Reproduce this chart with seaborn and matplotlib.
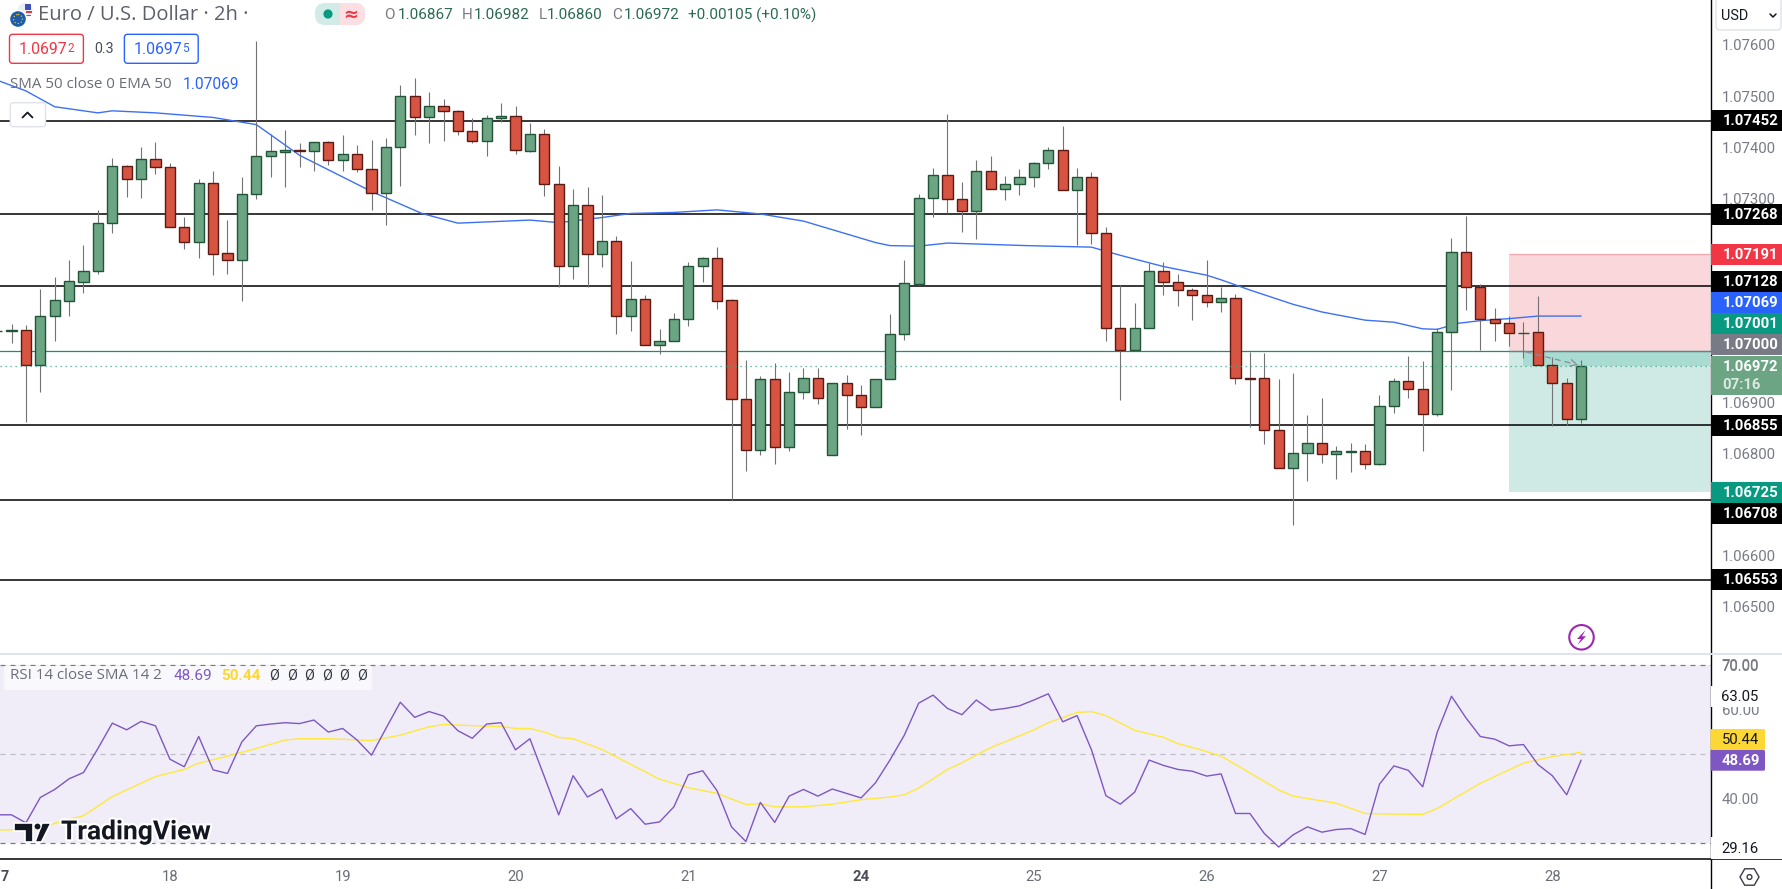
import numpy as np
import pandas as pd
import matplotlib
matplotlib.use("Agg")
import matplotlib.pyplot as plt
import matplotlib.patheffects as pe
from matplotlib.patches import Rectangle, FancyBboxPatch, Circle, Polygon, Ellipse
import seaborn as sns

# ---- data (prices in 1e-5 USD points) ----
opens = [107039,107040,107041,106974,107070,107099,107136,107158,107251,107362,107338,107376,107360,107243,107215,107329,107192,107178,107309,107382,107391,107395,107393,107409,107374,107386,107358,107311,107401,107501,107458,107480,107470,107431,107411,107456,107460,107393,107425,107327,107168,107286,107190,107217,107070,107102,107013,107021,107064,107168,107182,107100,106907,106807,106945,106813,106920,106947,106797,106937,106915,106891,106945,107033,107132,107300,107345,107298,107275,107354,107318,107327,107341,107368,107394,107316,107341,107232,107046,107003,107045,107158,107136,107121,107111,107097,107104,106947,106947,106846,106771,106800,106820,106798,106803,106804,106780,106892,106941,106927,106878,107037,107194,107125,107064,107055,107035,107037,106974,106938,106867]
highs = [107060,107053,107051,107122,107145,107179,107208,107277,107378,107365,107400,107410,107368,107263,107337,107353,107257,107341,107608,107425,107433,107408,107409,107412,107424,107404,107414,107418,107521,107535,107508,107494,107472,107457,107463,107486,107480,107447,107435,107363,107318,107322,107306,107226,107177,107110,107044,107075,107175,107185,107204,107102,106983,106951,106977,106959,106967,106967,106937,106953,106934,106945,107073,107179,107308,107359,107465,107331,107375,107382,107343,107357,107370,107400,107441,107359,107351,107243,107130,107095,107172,107174,107151,107124,107179,107126,107112,106999,106996,106945,106957,106875,106908,106814,106820,106818,106914,106947,106991,106981,107045,107222,107265,107131,107084,107070,107057,107108,106989,106947,106982]
lows = [107020,107017,106861,106920,107020,107070,107115,107151,107232,107303,107301,107348,107243,107201,107183,107150,107152,107099,107298,107342,107322,107361,107353,107365,107353,107351,107277,107247,107324,107424,107408,107412,107424,107407,107382,107449,107387,107391,107305,107126,107142,107126,107166,107034,107040,107013,106995,107021,107049,107136,107083,106709,106766,106797,106780,106805,106907,106897,106797,106848,106837,106891,106945,107023,107130,107264,107271,107234,107220,107318,107297,107307,107322,107358,107315,107209,107210,107021,106905,107003,107045,107111,107089,107062,107087,107076,106936,106852,106819,106771,106660,106745,106782,106750,106764,106770,106778,106880,106909,106805,106874,106924,107080,107003,107021,107010,106987,106974,106854,106855,106860]
closes = [107040,107041,106974,107070,107100,107137,107158,107251,107362,107338,107376,107360,107243,107215,107329,107191,107178,107309,107382,107392,107395,107393,107409,107374,107386,107358,107311,107401,107501,107458,107480,107470,107431,107411,107456,107460,107394,107425,107327,107168,107286,107190,107217,107070,107102,107013,107021,107064,107168,107182,107099,106907,106807,106945,106813,106920,106947,106909,106937,106915,106891,106945,107033,107133,107300,107345,107298,107275,107354,107318,107327,107341,107368,107394,107316,107341,107232,107046,107003,107045,107158,107136,107121,107111,107097,107104,106947,106946,106846,106771,106800,106820,106798,106804,106804,106780,106892,106941,106927,106878,107037,107194,107125,107064,107055,107035,107036,106974,106938,106867,106972]

ema_bar = [0,2,4,7,8,11,15,18,21,26,29.5,32,37,39,42,44,47,50,53,56,61,62,64,66,71.5,76,78,81,84,85,87,90,92,95,97,99,100,101.5,103,105,107,110]
ema_val = [107531,107510,107479,107467,107471,107467,107458,107444,107384,107313,107270,107251,107257,107252,107262,107270,107272,107277,107269,107255,107213,107207,107206,107212,107207,107204,107188,107166,107149,107140,107120,107092,107077,107061,107057,107044,107043,107055,107060,107064,107069,107069]

rsi = [36.4,36.4,34.6,40.3,42.1,44.5,45.9,51.3,57.0,55.5,57.4,56.4,48.9,47.2,54.0,46.5,45.7,52.8,56.4,56.8,57.1,56.9,57.7,55.0,55.8,53.2,49.8,55.8,61.7,58.3,59.6,58.6,55.3,53.6,56.8,57.1,51.0,53.5,45.0,36.4,45.2,40.4,42.2,35.5,37.8,34.3,34.8,38.2,45.4,46.3,41.8,33.7,30.4,39.2,34.7,40.6,42.1,40.6,42.2,41.2,40.2,43.6,48.7,54.3,61.5,63.3,60.3,58.9,62.2,59.9,60.3,60.9,62.2,63.6,57.3,58.7,51.0,40.7,38.8,41.5,48.7,47.5,46.6,46.2,45.1,45.6,36.7,36.7,32.2,29.16,31.9,33.7,32.5,33.1,33.3,32.0,43.3,47.4,46.4,42.7,54.9,63.05,58.2,54.0,53.4,51.9,52.2,47.7,45.2,40.9,48.69]

sma_bar = [0,3,4,6,8,11,13,14,16,18,20,21,23,26,28,30,31,34,35,36,37,38,39,40,41,42,46,48,50,52,53,54,56,58,60,62,63,64,66,67,69,70,72,73,75,76,77,79,81,82,83.5,85,89,90,93,95,96,99,100,103,106,108,110]
sma_val = [33.0,33.1,34.5,36.2,40.5,45.0,46.6,48.0,49.6,51.3,53.2,53.5,53.5,53.1,54.3,56.2,56.7,56.3,56.3,55.8,55.8,55.0,53.8,53.5,52.3,51.1,44.4,42.5,41.2,38.7,38.9,38.2,38.2,38.8,39.8,40.4,40.9,42.4,46.6,48.1,51.5,52.8,55.5,57.1,59.4,59.6,58.7,55.4,53.8,52.4,51.1,49.6,42.0,40.6,39.0,36.7,36.6,36.5,37.8,43.5,48.0,49.5,50.44]

levels = [1.07452, 1.07268, 1.07128, 1.06855, 1.06708, 1.06553]
price_ticks = [1.076, 1.075, 1.074, 1.073, 1.069, 1.068, 1.066, 1.065]
rsi_ticks = [70, 60, 40]
day_ticks = [12, 24, 36, 48, 60, 72, 84, 96, 108]
day_labels = ["18", "19", "20", "21", "24", "25", "26", "27", "28"]

entry, stop, target, last_close = 1.07000, 1.07191, 1.06725, 1.06972
rsi_last, sma_last = 48.69, 50.44

# ---- theme ----
sns.set_theme(style="white")
plt.rcParams["font.family"] = ["Roboto", "DejaVu Sans"]
WORDS = ["Open Sans", "DejaVu Sans"]

W, H = 1782, 889
AX_R = 1710.5
SEP = 654.3
BOT = 859.3
fig = plt.figure(figsize=(W / 100, H / 100), dpi=100, facecolor="white")

UP, UP_E = "#6ba583", "#225437"
DN, DN_E = "#d75442", "#5b1a13"
WICK = "#737375"
GRAY = "#787b86"
BLUE = "#2962ff"
TEAL = "#089981"
PURPLE = "#7e57c2"
YELLOW = "#fdd835"
RED = "#f23645"
INK = "#131722"

ax = fig.add_axes([0, 1 - SEP / H, AX_R / W, SEP / H])
rx = fig.add_axes([0, 1 - BOT / H, AX_R / W, (BOT - SEP) / H])
xlim = (2.9 / 14.4, (AX_R + 2.9) / 14.4)


def price_at(y):
    return 1.07 + (351.3 - y) / 51057


ax.set_xlim(*xlim)
ax.set_ylim(price_at(SEP), price_at(0))
rx.set_xlim(*xlim)
rx.set_ylim(70 - (BOT - 665.3) / 4.45, 70 - (SEP - 665.3) / 4.45)

# ---- candles ----
df = pd.DataFrame({"o": opens, "h": highs, "l": lows, "c": closes}) / 1e5
df["bar"] = np.arange(len(df))
df["up"] = df["c"] >= df["o"]

# position tool
x1 = xlim[1]
ax.add_patch(Rectangle((105, entry), x1 - 105, stop - entry, fc="#fad7da", ec="none", zorder=1))
ax.add_patch(Rectangle((105, target), x1 - 105, entry - target, fc="#cfeae4", ec="none", zorder=1))
ax.add_patch(Rectangle((106, last_close), x1 - 106, entry - last_close, fc="#a8dbd2", ec="none", zorder=1.1))
ax.hlines(stop, 105, x1, color="#f7a9b0", lw=1, zorder=1.2)
ax.hlines(entry, 105, x1, color=GRAY, lw=0.9, zorder=2.6)

for lv in levels:
    ax.axhline(lv, color="black", lw=1.1, zorder=2)
ax.axhline(1.07001, color="#1f8a7c", lw=0.9, zorder=2.5)
ax.axhline(last_close, color="#3fa88a", lw=0.9, ls=(0, (1, 3)), zorder=5)

ema = pd.DataFrame({"bar": ema_bar, "v": np.array(ema_val) / 1e5})
sns.lineplot(data=ema, x="bar", y="v", ax=ax, color="#3d70f5", lw=1.0, zorder=3, legend=False, errorbar=None)

ax.vlines(df["bar"], df["l"], df["h"], color=WICK, lw=0.8, zorder=3.5)
for up, fc, ec in [(True, UP, UP_E), (False, DN, DN_E)]:
    s = df[df["up"] == up]
    ax.bar(s["bar"], (s["c"] - s["o"]).abs(), bottom=s[["o", "c"]].min(axis=1), width=0.70,
           color=fc, edgecolor=ec, linewidth=1.0, zorder=4)

ax.annotate("", xy=(110, last_close), xytext=(106, entry),
            arrowprops=dict(arrowstyle="->", color="#8a8d97", lw=0.9, ls=(0, (4, 4))), zorder=6)

ax.set_xlabel(""); ax.set_ylabel("")
ax.set_xticks([])
ax.yaxis.tick_right()
ax.set_yticks(price_ticks)
ax.set_yticklabels([f"{t:.5f}" for t in price_ticks])
ax.tick_params(axis="y", length=0, pad=8, labelsize=10.7, labelcolor=GRAY)
for sp in ["top", "left", "bottom"]:
    ax.spines[sp].set_visible(False)
ax.spines["right"].set_color("black")
ax.spines["right"].set_linewidth(1.0)

# ---- RSI pane ----
rx.axhspan(30, 70, color="#f0edf8", lw=0, zorder=1)
rx.axhline(70, color=GRAY, lw=0.9, ls=(0, (4, 4)), zorder=2)
rx.axhline(30, color=GRAY, lw=0.9, ls=(0, (4, 4)), zorder=2)
rx.axhline(50, color="#bcbec8", lw=0.9, ls=(0, (4, 4)), zorder=2)
rdf = pd.DataFrame({"bar": np.arange(len(rsi)), "v": rsi})
sdf = pd.DataFrame({"bar": sma_bar, "v": sma_val})
sns.lineplot(data=sdf, x="bar", y="v", ax=rx, color="#ffe93b", lw=1.0, zorder=3, legend=False, errorbar=None)
sns.lineplot(data=rdf, x="bar", y="v", ax=rx, color=PURPLE, lw=1.0, zorder=4, legend=False, errorbar=None)
rx.set_xlabel(""); rx.set_ylabel("")
rx.yaxis.tick_right()
rx.set_yticks(rsi_ticks)
rx.set_yticklabels([f"{t:.2f}" for t in rsi_ticks])
rx.tick_params(axis="y", length=0, pad=8, labelsize=10.7, labelcolor=GRAY)
rx.set_xticks(day_ticks)
rx.set_xticklabels(day_labels)
rx.tick_params(axis="x", length=0, pad=8, labelsize=10.7, labelcolor="#6a6d78")
for t, lab in zip(rx.get_xticklabels(), day_labels):
    if lab == "24":
        t.set_fontweight("bold")
        t.set_color("#4a4d57")
for sp in ["top", "left"]:
    rx.spines[sp].set_visible(False)
rx.spines["bottom"].set_color("black")
rx.spines["bottom"].set_linewidth(1.1)
rx.spines["right"].set_color("black")
rx.spines["right"].set_linewidth(1.0)

# ---- overlay in pixel units ----
ov = fig.add_axes([0, 0, 1, 1], zorder=10)
ov.set_xlim(0, W)
ov.set_ylim(H, 0)
ov.axis("off")
ov.patch.set_alpha(0)


def T(x, y, s, color=GRAY, size=10.7, ha="left", va="center", **kw):
    return ov.text(x, y, s, color=color, fontsize=size, ha=ha, va=va, **kw)


def box(x0, y0, x2, y2, fc, ec="none", r=0.0, lw=1.0, z=2):
    if r:
        p = FancyBboxPatch((x0 + r, y0 + r), x2 - x0 - 2 * r, y2 - y0 - 2 * r,
                           boxstyle=f"round,pad={r},rounding_size={r}", fc=fc, ec=ec, lw=lw, zorder=z)
    else:
        p = Rectangle((x0, y0), x2 - x0, y2 - y0, fc=fc, ec=ec, lw=lw, zorder=z)
    ov.add_patch(p)


# separators / axis rest
ov.plot([0, W], [SEP, SEP], color="#e0e3eb", lw=1.4, zorder=1)
ov.plot([AX_R, W], [BOT, BOT], color="black", lw=1.1, zorder=1)
ov.plot([AX_R, AX_R], [BOT, H], color="black", lw=1.0, zorder=1)
T(0.3, 876.7, "7", color="#4a4d57", size=10.4, fontweight="bold")

# header
ov.add_patch(Circle((25, 10.5), 7.5, fc="#eceef5", ec="none", zorder=2))
ov.add_patch(Rectangle((25, 3.5), 6, 6, fc="#3f51b5", ec="none", zorder=2.1))
ov.add_patch(Rectangle((25.5, 11), 6.5, 2, fc="#e0394b", ec="none", zorder=2.1))
ov.add_patch(Rectangle((19.5, 14.5), 11.5, 1.6, fc="#e0394b", ec="none", zorder=2.1))
ov.add_patch(Circle((18, 19), 8.5, fc="#1c5cab", ec="white", lw=1, zorder=3))
ov.add_patch(Circle((18, 19), 4.5, fc="none", ec="#e8c53a", lw=0.9, ls=":", zorder=3.1))
T(38, 15, "Euro / U.S. Dollar · 2h ·", color="#5d606b", size=14.5, fontfamily=WORDS)

box(315, 3, 365, 25, "#d3ebe6", r=10)
ov.add_patch(Rectangle((340, 3), 15, 22, fc="#fbdfe2", ec="none", zorder=2.2))
box(342, 3, 365, 25, "#fbdfe2", r=10, z=2.1)
ov.add_patch(Circle((328, 14), 4.6, fc=TEAL, ec="none", zorder=3))
T(351, 14.5, "≈", color=RED, size=13, ha="center", fontfamily=["DejaVu Sans"], fontweight="bold")

OHLC_V = "#2b6a52"
T(384.6, 15, "O", size=11)
T(398, 15, "1.06867", color=OHLC_V, size=11)
T(462, 15, "H", size=11)
T(474, 15, "1.06982", color=OHLC_V, size=11)
T(538.5, 15, "L", size=11)
T(547, 15, "1.06860", color=OHLC_V, size=11)
T(612, 15, "C", size=11)
T(624, 15, "1.06972", color=OHLC_V, size=11)
T(688, 15, "+0.00105 (+0.10%)", color=OHLC_V, size=11)

box(9.5, 34.3, 83.4, 63.3, "white", ec=RED, r=3)
T(19, 50, "1.0697", color=RED, size=11.4)
T(67, 48, "2", color=RED, size=8.5)
T(94.5, 49, "0.3", color="#4a4d57", size=10.2)
box(124.4, 34.3, 198.2, 63.3, "white", ec=BLUE, r=3)
T(134, 50, "1.0697", color=BLUE, size=11.4)
T(182, 48, "5", color=BLUE, size=8.5)

T(10, 84.7, "SMA 50 close 0 EMA 50", color="#6a6d78", size=10.9, fontfamily=WORDS)
T(183, 84.7, "1.07069", color=BLUE, size=11.2)
box(10.3, 102.7, 45.5, 126.7, "white", ec="#e0e3eb", r=3)
ov.plot([22.5, 27.5, 32.5], [117.5, 112.5, 117.5], color=INK, lw=1.3, zorder=3)

# USD box
box(1716, -3, 1781, 30, "white", ec="#e0e3eb", r=4)
T(1720.5, 15.5, "USD", color=INK, size=10.4)
ov.plot([1770, 1773, 1776], [14, 17, 14], color=INK, lw=1.1, zorder=3)


def tag(cy, s, fc, tc="white", h=10.4, bold=True, x2=W, x_text=1722.8, size=10.7):
    box(AX_R, cy - h, x2, cy + h, fc, z=3)
    T(x_text, cy + 0.3, s, color=tc, size=size, fontweight="bold" if bold else "normal", zorder=4)


tag(120.3, "1.07452", "black")
tag(214.3, "1.07268", "black")
tag(254.7, "1.07191", RED)
tag(281.7, "1.07128", "black")
tag(302.7, "1.07069", BLUE)
tag(323.7, "1.07001", TEAL)
tag(344.7, "1.07000", GRAY)
box(AX_R, 356, W, 394.7, UP, z=3)
T(1722.8, 366.7, "1.06972", color="white", fontweight="bold", zorder=4)
T(1722, 384.9, "07:16", color="#dce9e1", fontweight="bold", zorder=4)
tag(425.3, "1.06855", "black")
tag(492.7, "1.06725", TEAL)
tag(513.7, "1.06708", "black")
tag(579.3, "1.06553", "black")

# RSI tags
box(AX_R, 686, W, 706.7, "white", z=3)
T(1721, 696.7, "63.05", color=INK, zorder=4)
box(AX_R, 836.7, W, 858.5, "white", z=3)
T(1721, 849, "29.16", color=INK, zorder=4)
box(AX_R, 729, 1765, 750, YELLOW, r=1.5, z=3)
T(1722, 739.7, "50.44", color=INK, zorder=4)
box(AX_R, 750, 1765, 770.7, PURPLE, r=1.5, z=3)
T(1721.5, 760.7, "48.69", color="white", fontweight="bold", zorder=4)
T(1721, 665.7, "70.00", zorder=4)

# RSI legend
ov.add_patch(Rectangle((3.8, 665.6), 368, 24.5, fc="white", ec="none", alpha=0.65, zorder=1))
T(10, 675.7, "RSI 14 close SMA 14 2", color="#6a6d78", size=10.9, fontfamily=WORDS)
T(174, 675.7, "48.69", color=PURPLE, size=11)
T(221, 675.7, "50.44", color=YELLOW, size=11, fontweight="bold")
for k in range(6):
    T(274 + k * 17.6, 675.7, "Ø", color=INK, size=10.4, ha="center", alpha=0.85)

# TradingView logo
halo = [pe.withStroke(linewidth=3, foreground="white")]
T(61, 832.3, "TradingView", color=INK, size=19, fontweight="bold", path_effects=halo, zorder=5)
for pts in [[(14, 823), (33, 823), (33, 842), (25, 842), (25, 830.5), (14, 830.5)],
            [(41.5, 842), (51, 823), (42, 823), (35, 842)]]:
    ov.add_patch(Polygon(pts, closed=True, fc=INK, ec="white", lw=1.2, zorder=5))
ov.add_patch(Circle((37.5, 826.5), 3.5, fc=INK, ec="white", lw=0.8, zorder=5))

# flash icon
ov.add_patch(Ellipse((1581.5, 637.3), 24.5, 24.5, fc="white", ec="#9c27b0", lw=1.5, zorder=3))
ov.add_patch(Polygon([(1585.5, 630), (1577, 639), (1581, 639), (1577.5, 645), (1586, 636.3), (1582, 636.3)],
                     closed=True, fc="#9c27b0", ec="none", zorder=4))

# settings icon
cx, cy = 1749.5, 877
hex_pts = [(cx + 9.5 * np.cos(a), cy + 9.5 * np.sin(a)) for a in np.deg2rad(np.arange(0, 360, 60))]
ov.add_patch(Polygon(hex_pts, closed=True, fc="white", ec="#3a3d47", lw=1.0, zorder=3))
ov.add_patch(Circle((cx, cy), 2.4, fc="white", ec="#3a3d47", lw=1.0, zorder=4))

fig.savefig("out.png", dpi=100, facecolor="white")
